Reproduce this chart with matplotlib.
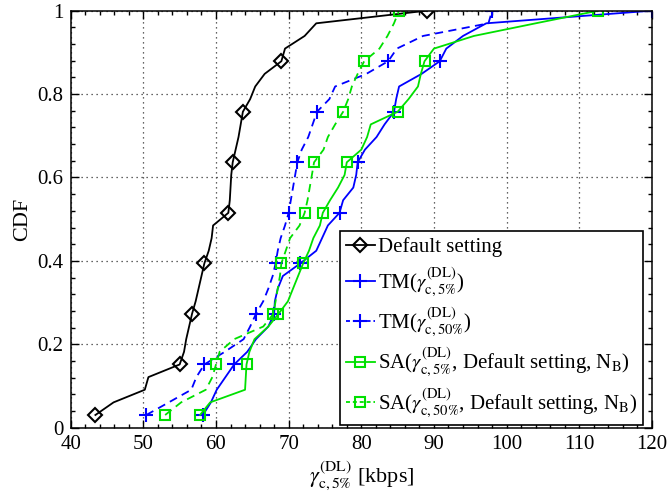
"""CDF of the 5%-ile downlink throughput for the default setting vs. TM / SA tuning.

Each curve is an empirical CDF over 33 samples; a marker is drawn on every
4th sample, MATLAB-style.
"""

from __future__ import annotations

import matplotlib

matplotlib.use("Agg")
import matplotlib.pyplot as plt  # noqa: E402
import numpy as np  # noqa: E402
from matplotlib.lines import Line2D  # noqa: E402
from matplotlib.ticker import FormatStrFormatter, MultipleLocator  # noqa: E402

# Sorted throughput samples [kbps].
default_setting = [
    43.4, 45.9, 50.2, 50.7, 55.0, 55.6, 55.9, 56.3, 56.7, 57.2, 57.6,
    58.0, 58.4, 59.0, 59.4, 59.6, 61.7, 61.9, 62.0, 62.1, 62.3, 62.7,
    63.1, 63.4, 63.7, 64.7, 65.4, 66.7, 69.0, 69.5, 72.2, 73.8, 89.0,
]
tm_5 = [
    58.2, 59.3, 60.1, 61.3, 62.5, 64.3, 65.5, 67.2, 68.0, 68.1, 68.5,
    69.2, 71.6, 73.8, 74.6, 75.4, 77.0, 77.5, 78.9, 79.3, 79.5, 80.5,
    82.1, 83.2, 84.5, 84.8, 85.2, 88.3, 90.8, 91.7, 94.0, 97.2, 120.0,
]
tm_50 = [
    50.4, 53.5, 56.6, 57.3, 58.4, 61.2, 63.8, 64.7, 65.5, 66.5, 67.2,
    67.8, 68.2, 68.5, 68.9, 69.5, 70.0, 70.3, 70.6, 70.9, 71.2, 71.8,
    72.7, 73.3, 73.9, 75.6, 76.4, 80.7, 83.7, 84.9, 88.5, 97.5, 98.0,
]
sa_5 = [
    57.8, 59.2, 64.0, 64.1, 64.2, 64.6, 65.3, 67.2, 68.6, 69.9, 70.6,
    71.3, 72.0, 72.8, 73.4, 74.3, 74.7, 75.7, 76.8, 77.7, 78.0, 80.0,
    80.8, 81.3, 85.0, 86.5, 87.8, 88.2, 88.7, 90.0, 95.5, 104.0, 112.6,
]
sa_50 = [
    53.0, 55.2, 58.6, 59.5, 60.0, 60.5, 62.5, 66.5, 67.9, 68.2, 68.5,
    68.8, 69.0, 69.6, 70.2, 71.5, 72.2, 72.6, 72.9, 73.2, 73.5, 74.8,
    75.4, 76.4, 77.5, 78.2, 78.7, 79.5, 80.4, 82.5, 83.6, 84.5, 85.2,
]

labels = [
    "Default setting",
    r"TM($\gamma^{\mathrm{(DL)}}_{\mathrm{c,5\%}}$)",
    r"TM($\gamma^{\mathrm{(DL)}}_{\mathrm{c,50\%}}$)",
    r"SA($\gamma^{\mathrm{(DL)}}_{\mathrm{c,5\%}}$, Default setting, N$_{\mathrm{B}}$)",
    r"SA($\gamma^{\mathrm{(DL)}}_{\mathrm{c,50\%}}$, Default setting, N$_{\mathrm{B}}$)",
]
x_ticks = [40, 50, 60, 70, 80, 90, 100, 110, 120]
y_ticks = [0, 0.2, 0.4, 0.6, 0.8, 1]

BLUE = "#0000ff"
GREEN = "#00e000"

# (colour, linestyle, marker, markersize)
_STYLES = [
    ("black", "-", "D", 7.0),
    (BLUE, "-", "+", 10.0),
    (BLUE, "--", "+", 10.0),
    (GREEN, "-", "s", 7.0),
    (GREEN, "--", "s", 7.0),
]


def _line_kwargs(colour, ls, marker, ms, dashes=(4.5, 3)):
    kw = dict(color=colour, linewidth=1.3, marker=marker, markersize=ms,
              markerfacecolor="none", markeredgecolor=colour,
              markeredgewidth=1.5)
    if ls == "--":
        kw["dashes"] = dashes
    else:
        kw["linestyle"] = "-"
    return kw


def plot_cdf(out: str = "out.png") -> None:
    plt.rcParams["font.family"] = ["Liberation Serif", "DejaVu Serif"]
    plt.rcParams["mathtext.fontset"] = "stix"
    plt.rcParams["font.size"] = 15

    fig = plt.figure(figsize=(6.7, 4.99), dpi=100)
    ax = fig.add_axes([0.1055, 0.143, 0.8675, 0.8356])

    series = [default_setting, tm_5, tm_50, sa_5, sa_50]
    handles = []
    for xs, style in zip(series, _STYLES):
        xs = np.asarray(xs)
        ys = np.arange(1, len(xs) + 1) / len(xs)
        ax.plot(xs, ys, markevery=(0, 4), **_line_kwargs(*style))
        # Proxy so the legend gets one centred marker per entry;
        # shorter dashes so "- + -" shows on the short handle.
        handles.append(Line2D([], [], **_line_kwargs(*style, dashes=(2.2, 1.6))))

    ax.set_xlim(40, 120)
    ax.set_ylim(0, 1)
    ax.set_xticks(x_ticks)
    ax.set_yticks(y_ticks)
    ax.yaxis.set_major_formatter(FormatStrFormatter("%g"))
    ax.xaxis.set_minor_locator(MultipleLocator(2))
    ax.yaxis.set_minor_locator(MultipleLocator(0.04))
    ax.tick_params(which="both", direction="in", top=True, right=True,
                   labelsize=15, width=1.0)
    ax.tick_params(which="major", length=6, pad=5)
    ax.tick_params(which="minor", length=3)
    for sp in ax.spines.values():
        sp.set_linewidth(1.1)

    ax.grid(True, which="major", linestyle=(0, (1, 3)), color="#333333",
            linewidth=0.9)

    ax.set_xlabel(r"$\gamma^{\mathrm{(DL)}}_{\mathrm{c,5\%}}$ [kbps]",
                  fontsize=16, labelpad=4)
    ax.set_ylabel("CDF", fontsize=16, labelpad=4)

    leg = ax.legend(
        handles, labels,
        loc="lower right", bbox_to_anchor=(0.985, 0.006),
        fontsize=15, frameon=True, fancybox=False, framealpha=1,
        edgecolor="black", handlelength=1.35, handletextpad=0.15,
        borderpad=0.3, labelspacing=0.38, borderaxespad=0, numpoints=1,
    )
    leg.get_frame().set_linewidth(1.2)

    fig.savefig(out, dpi=100)
    plt.close(fig)


if __name__ == "__main__":
    plot_cdf()
